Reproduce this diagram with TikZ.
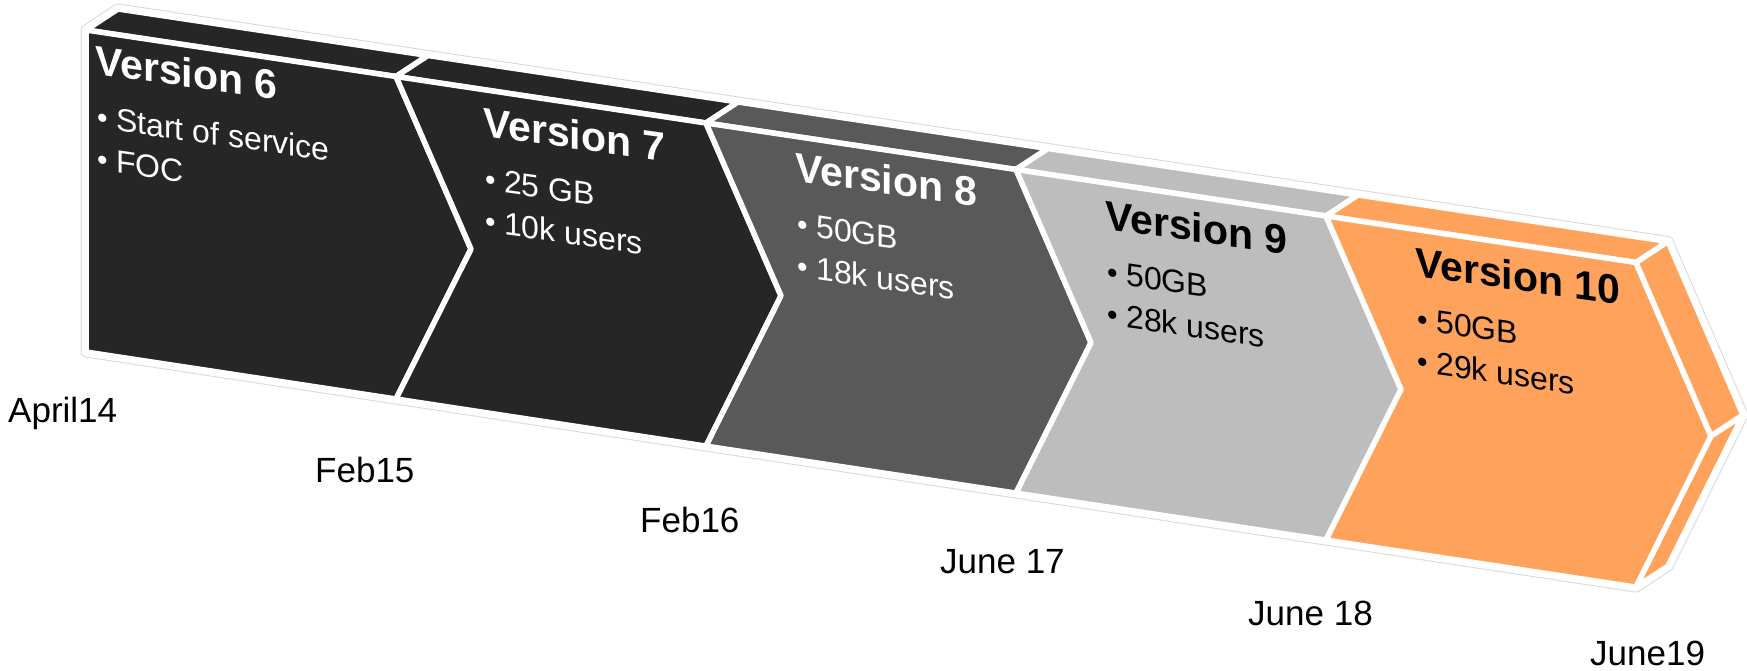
\documentclass[tikz,border=0pt]{standalone}
\usepackage{fontspec}
\setmainfont{Liberation Sans}
\definecolor{cA}{HTML}{262626}
\definecolor{cB}{HTML}{595959}
\definecolor{cC}{HTML}{BDBDBD}
\definecolor{cD}{HTML}{FFA35C}
\newcommand{\bul}{\makebox[19pt][l]{\raisebox{1pt}{\fontsize{30}{30}\selectfont •}}}
\begin{document}
\begin{tikzpicture}[x=1pt,y=-1pt,
  face/.style={draw=white,line width=5.5pt,line join=round},
  titletext/.style={anchor=base west,inner sep=0pt,font=\fontsize{41}{41}\selectfont\bfseries},
  itemtext/.style={anchor=base west,inner sep=0pt,font=\fontsize{32}{32}\selectfont},
  datetext/.style={anchor=base west,inner sep=0pt,font=\fontsize{35}{35}\selectfont,text=black},
  slanted/.style={yslant=-0.14,transform shape}]
\useasboundingbox (0,0) rectangle (1747,671);
% front top / bottom corners
\coordinate (T0) at (86,30);    \coordinate (B0) at (86,352);
\coordinate (T1) at (396,76.5); \coordinate (B1) at (396,399);
\coordinate (T2) at (706,123);  \coordinate (B2) at (706,446.1);
\coordinate (T3) at (1016,169.5); \coordinate (B3) at (1016,493.1);
\coordinate (T4) at (1326,216); \coordinate (B4) at (1326,540.1);
\coordinate (T5) at (1636,262.5); \coordinate (B5) at (1636,587.1);
% tips
\coordinate (P1) at (471,249.1);
\coordinate (P2) at (781,295.8);
\coordinate (P3) at (1091,342.6);
\coordinate (P4) at (1401,389.4);
\coordinate (P5) at (1711,436.1);
% back top corners
\coordinate (U0) at (118,9);
\coordinate (U1) at (428,55.5);
\coordinate (U2) at (738,102);
\coordinate (U3) at (1048,148.5);
\coordinate (U4) at (1358,195);
\coordinate (U5) at (1668,241.5);
\coordinate (Q5) at (1743,415.1);
\coordinate (D5) at (1668,566.1);
% silhouette outline
\draw[gray!30,line width=11pt,line join=round] (T0)--(U0)--(U5)--(Q5)--(D5)--(B5)--(B0)--cycle;
\draw[white,line width=9pt,line join=round] (T0)--(U0)--(U5)--(Q5)--(D5)--(B5)--(B0)--cycle;
% chevron 6
\filldraw[face,fill=cA] (T0)--(T1)--(U1)--(U0)--cycle;
\filldraw[face,fill=cA] (T0)--(T1)--(P1)--(B1)--(B0)--cycle;
% chevron 7
\filldraw[face,fill=cA] (T1)--(T2)--(U2)--(U1)--cycle;
\filldraw[face,fill=cA] (T1)--(T2)--(P2)--(B2)--(B1)--(P1)--cycle;
% chevron 8
\filldraw[face,fill=cB] (T2)--(T3)--(U3)--(U2)--cycle;
\filldraw[face,fill=cB] (T2)--(T3)--(P3)--(B3)--(B2)--(P2)--cycle;
% chevron 9
\filldraw[face,fill=cC] (T3)--(T4)--(U4)--(U3)--cycle;
\filldraw[face,fill=cC] (T3)--(T4)--(P4)--(B4)--(B3)--(P3)--cycle;
% chevron 10
\filldraw[face,fill=cD] (T4)--(T5)--(U5)--(U4)--cycle;
\filldraw[face,fill=cD] (T4)--(T5)--(P5)--(B5)--(B4)--(P4)--cycle;
\filldraw[face,fill=cD] (T5)--(P5)--(Q5)--(U5)--cycle;
\filldraw[face,fill=cD] (P5)--(B5)--(D5)--(Q5)--cycle;
% texts
\begin{scope}[shift={(95,74)},slanted]
  \node[titletext,text=white] (v6) at (0,0) {Version 6};
  \node[itemtext,text=white] (v6a) at (2,54) {\bul Start of service};
  \node[itemtext,text=white] (v6b) at (2,96) {\bul FOC};
\end{scope}
\begin{scope}[shift={(483,136)},slanted]
  \node[titletext,text=white] (v7) at (0,0) {Version 7};
  \node[itemtext,text=white] (v7a) at (2,54) {\bul 25 GB};
  \node[itemtext,text=white] (v7b) at (2,96) {\bul 10k users};
\end{scope}
\begin{scope}[shift={(795,181)},slanted]
  \node[titletext,text=white] (v8) at (0,0) {Version 8};
  \node[itemtext,text=white] (v8a) at (2,54) {\bul 50GB};
  \node[itemtext,text=white] (v8b) at (2,96) {\bul 18k users};
\end{scope}
\begin{scope}[shift={(1105,229)},slanted]
  \node[titletext,text=black] (v9) at (0,0) {Version 9};
  \node[itemtext,text=black] (v9a) at (2,54) {\bul 50GB};
  \node[itemtext,text=black] (v9b) at (2,96) {\bul 28k users};
\end{scope}
\begin{scope}[shift={(1415,276)},slanted]
  \node[titletext,text=black] (v10) at (0,0) {Version 10};
  \node[itemtext,text=black] (v10a) at (2,54) {\bul 50GB};
  \node[itemtext,text=black] (v10b) at (2,96) {\bul 29k users};
\end{scope}
% dates
\node[datetext] (d14) at (8,422) {April14};
\node[datetext] (d15) at (315,482) {Feb15};
\node[datetext] (d16) at (640,532) {Feb16};
\node[datetext] (d17) at (940,573) {June 17};
\node[datetext] (d18) at (1248,625) {June 18};
\node[datetext] (d19) at (1590,665) {June19};
\end{tikzpicture}
\end{document}
